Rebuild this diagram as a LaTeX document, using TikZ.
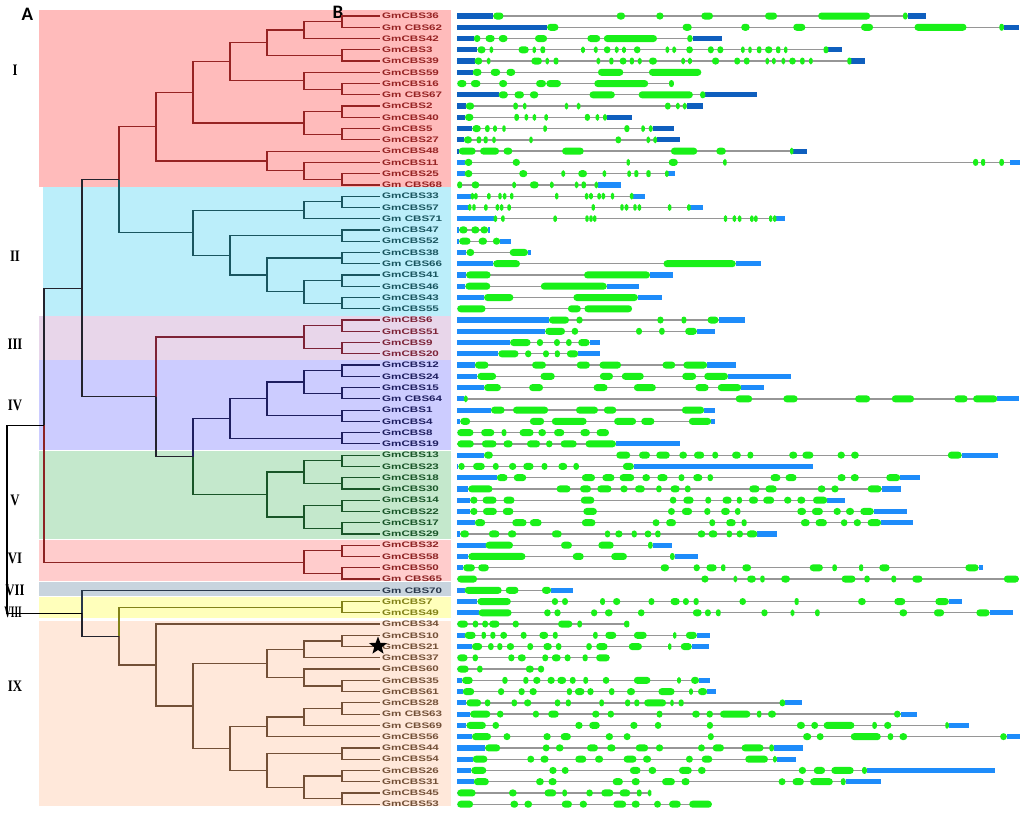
\documentclass[tikz,border=0pt]{standalone}
\usepackage{fontspec}
\setmainfont{Liberation Serif}
\newfontfamily\lblfont[FakeStretch=1.45]{Liberation Sans}
\newfontfamily\romfont[FakeStretch=0.8]{Liberation Serif}
\newfontfamily\abfont{Carlito}
\usetikzlibrary{shapes.geometric}
\definecolor{bgI}{RGB}{255,187,187}
\definecolor{bgII}{RGB}{187,238,250}
\definecolor{bgIII}{RGB}{232,214,234}
\definecolor{bgIV}{RGB}{204,204,255}
\definecolor{bgV}{RGB}{196,232,204}
\definecolor{bgVI}{RGB}{255,204,204}
\definecolor{bgVII}{RGB}{200,212,222}
\definecolor{bgVIII}{RGB}{255,255,187}
\definecolor{bgIX}{RGB}{255,232,218}
\definecolor{cI}{RGB}{150,35,35}
\definecolor{cII}{RGB}{25,85,95}
\definecolor{cIII}{RGB}{125,35,55}
\definecolor{cIV}{RGB}{30,30,95}
\definecolor{cV}{RGB}{25,85,40}
\definecolor{cVI}{RGB}{140,35,35}
\definecolor{cVII}{RGB}{40,55,75}
\definecolor{cVIII}{RGB}{130,130,25}
\definecolor{cIX}{RGB}{115,80,55}
\definecolor{cBB}{RGB}{35,35,45}
\definecolor{utrA}{RGB}{15,95,190}
\definecolor{utrB}{RGB}{30,140,250}
\definecolor{exonG}{RGB}{25,240,25}
\definecolor{intronG}{RGB}{150,150,150}
\tikzset{
  tree/.style={line width=1.2pt},
  leaf/.style={font=\lblfont\bfseries\fontsize{8}{8}\selectfont, inner xsep=2pt, inner ysep=0pt, anchor=west},
  rom/.style={font=\romfont\bfseries\fontsize{16}{16}\selectfont, inner sep=0pt},
  abl/.style={font=\abfont\bfseries\fontsize{19}{19}\selectfont, inner sep=0pt},
  intron/.style={draw=intronG, line width=1.3pt},
  exon/.style={fill=exonG}
}
\newcommand\nd[3]{\coordinate (#1) at (#2,{16+11.26*(#3)});}
\newcommand\lf[3]{\node[leaf,text=#3] (L#1) at (380,{16+11.26*#1}) {#2};}
\newcommand\br[3]{\foreach \ch in {#3}{\draw[tree,#1] (#2) |- (\ch);}}
\newcommand\gene[5]{%
  \pgfmathsetmacro\gy{16+11.26*#1}%
  \ifnum#1<13 \def\utrcol{utrA}\else\def\utrcol{utrB}\fi
  \draw[intron] ({450+0.3663*#2},\gy) -- ({450+0.3663*#3},\gy);
  \foreach \ua/\ub in {#4}{\fill[fill=\utrcol] ({450+0.3663*\ua},{\gy-2.6}) rectangle ({450+0.3663*\ub},{\gy+2.6});}
  \foreach \ea/\eb in {#5}{%
    \pgfmathsetmacro\xc{450+0.3663*(\ea+\eb)/2}%
    \pgfmathsetmacro\hw{max(1.7,0.3663*(\eb-\ea)/2)}%
    \pgfmathsetmacro\rr{min(3.4,\hw)}%
    \fill[exon,rounded corners=\rr pt] ({\xc-\hw},{\gy-3.5}) rectangle ({\xc+\hw},{\gy+3.5});}%
}
\begin{document}
\begin{tikzpicture}[x=1pt,y=-1pt]
\useasboundingbox (0,0) rectangle (1024,815);
\fill[white] (0,0) rectangle (1024,815);
% clade backgrounds
\fill[bgI] (39,10) rectangle (451,187);
\fill[bgII] (43,187) rectangle (451,316);
\fill[bgIII] (39,316) rectangle (451,360);
\fill[bgIV] (39,360) rectangle (451,450);
\fill[bgV] (39,451) rectangle (451,539);
\fill[bgVI] (39,540) rectangle (451,581);
\fill[bgVII] (39,582) rectangle (451,596);
\fill[bgVIII] (39,597) rectangle (451,618);
\fill[bgIX] (39,621) rectangle (451,806);
% panel letters and clade numerals
\node[abl] (pA) at (27.5,14) {A};
\node[abl] (pB) at (338,12.5) {B};
\node[rom] (nI) at (15,70) {I};
\node[rom] (nII) at (15,256) {II};
\node[rom] (nIII) at (15,344) {III};
\node[rom] (nIV) at (15,405.5) {IV};
\node[rom] (nV) at (15,500) {V};
\node[rom] (nVI) at (15,558.5) {VI};
\node[rom] (nVII) at (15,590) {VII};
\node[rom,xscale=0.72] (nVIII) at (13,612.7) {VIII};
\node[rom] (nIX) at (15,686) {IX};
% leaves
\lf{0}{GmCBS36}{cI}\lf{1}{Gm CBS62}{cI}\lf{2}{GmCBS42}{cI}\lf{3}{GmCBS3}{cI}
\lf{4}{GmCBS39}{cI}\lf{5}{GmCBS59}{cI}\lf{6}{GmCBS16}{cI}\lf{7}{Gm CBS67}{cI}
\lf{8}{GmCBS2}{cI}\lf{9}{GmCBS40}{cI}\lf{10}{GmCBS5}{cI}\lf{11}{GmCBS27}{cI}
\lf{12}{GmCBS48}{cI}\lf{13}{GmCBS11}{cI}\lf{14}{GmCBS25}{cI}\lf{15}{Gm CBS68}{cI}
\lf{16}{GmCBS33}{cII}\lf{17}{GmCBS57}{cII}\lf{18}{Gm CBS71}{cII}\lf{19}{GmCBS47}{cII}
\lf{20}{GmCBS52}{cII}\lf{21}{GmCBS38}{cII}\lf{22}{Gm CBS66}{cII}\lf{23}{GmCBS41}{cII}
\lf{24}{GmCBS46}{cII}\lf{25}{GmCBS43}{cII}\lf{26}{GmCBS55}{cII}
\lf{27}{GmCBS6}{cIII}\lf{28}{GmCBS51}{cIII}\lf{29}{GmCBS9}{cIII}\lf{30}{GmCBS20}{cIII}
\lf{31}{GmCBS12}{cIV}\lf{32}{GmCBS24}{cIV}\lf{33}{GmCBS15}{cIV}\lf{34}{Gm CBS64}{cIV}
\lf{35}{GmCBS1}{cIV}\lf{36}{GmCBS4}{cIV}\lf{37}{GmCBS8}{cIV}\lf{38}{GmCBS19}{cIV}
\lf{39}{GmCBS13}{cV}\lf{40}{GmCBS23}{cV}\lf{41}{GmCBS18}{cV}\lf{42}{GmCBS30}{cV}
\lf{43}{GmCBS14}{cV}\lf{44}{GmCBS22}{cV}\lf{45}{GmCBS17}{cV}\lf{46}{GmCBS29}{cV}
\lf{47}{GmCBS32}{cVI}\lf{48}{GmCBS58}{cVI}\lf{49}{GmCBS50}{cVI}\lf{50}{Gm CBS65}{cVI}
\lf{51}{Gm CBS70}{cVII}\lf{52}{GmCBS7}{cVIII}\lf{53}{GmCBS49}{cVIII}
\lf{54}{GmCBS34}{cIX}\lf{55}{GmCBS10}{cIX}\lf{56}{GmCBS21}{cIX}\lf{57}{GmCBS37}{cIX}
\lf{58}{GmCBS60}{cIX}\lf{59}{GmCBS35}{cIX}\lf{60}{GmCBS61}{cIX}\lf{61}{GmCBS28}{cIX}
\lf{62}{Gm CBS63}{cIX}\lf{63}{Gm CBS69}{cIX}\lf{64}{GmCBS56}{cIX}\lf{65}{GmCBS44}{cIX}
\lf{66}{GmCBS54}{cIX}\lf{67}{GmCBS26}{cIX}\lf{68}{GmCBS31}{cIX}\lf{69}{GmCBS45}{cIX}
\lf{70}{GmCBS53}{cIX}
% internal nodes
\nd{a1}{342}{0.5}\nd{a2}{304}{1.25}\nd{a3}{342}{3.5}\nd{a4}{267}{2.375}
\nd{a5}{342}{6.5}\nd{a6}{304}{5.75}\nd{a7}{230}{4.0625}\nd{a8}{342}{8.5}
\nd{a9}{342}{10.5}\nd{a10}{304}{9.5}\nd{a11}{193}{6.78125}\nd{a12}{342}{14.5}
\nd{a13}{304}{13.75}\nd{a14}{267}{12.875}\nd{a15}{156}{9.828}
\nd{b1}{342}{16.5}\nd{b2}{304}{17.25}\nd{b3}{342}{19.5}\nd{b4}{342}{21.5}
\nd{b5}{342}{23.5}\nd{b6}{342}{25.5}\nd{b7}{304}{24.5}\nd{b8}{267}{23}
\nd{b9}{230}{21.25}\nd{b10}{193}{19.25}\nd{c1}{119}{14.539}
\nd{d1}{342}{27.5}\nd{d2}{342}{29.5}\nd{d3}{304}{28.5}
\nd{e1}{342}{31.5}\nd{e2}{342}{33.5}\nd{e3}{304}{32.5}\nd{e4}{342}{35.5}
\nd{e5}{267}{34}\nd{e6}{342}{37.5}\nd{e7}{230}{35.75}
\nd{f1}{342}{39.5}\nd{f2}{342}{41.5}\nd{f3}{304}{40.5}\nd{f4}{342}{43.5}
\nd{f5}{342}{45.5}\nd{f6}{304}{44.5}\nd{f7}{267}{42.5}
\nd{g1}{193}{39.125}\nd{g2}{156}{33.8125}\nd{g3}{82}{24.176}
\nd{h1}{342}{47.5}\nd{h2}{342}{49.5}\nd{h3}{304}{48.5}\nd{g4}{44}{36.338}
\nd{i1}{342}{52.5}
\nd{j1}{342}{55.5}\nd{j2}{304}{56.25}\nd{j3}{342}{59.5}\nd{j4}{304}{58.75}
\nd{j5}{267}{57.5}\nd{j6}{342}{61.5}\nd{j7}{304}{62.25}\nd{j8}{267}{63.125}
\nd{j9}{342}{65.5}\nd{j10}{342}{67.5}\nd{j11}{342}{69.5}\nd{j12}{304}{68.5}
\nd{j13}{267}{67}\nd{j14}{230}{65.0625}\nd{j15}{193}{61.28}\nd{j16}{156}{57.64}
\nd{j17}{119}{55.07}\nd{j18}{82}{53.035}\nd{root}{7}{44.69}
% branches
\br{cI}{a1}{L0.west,L1.west}\br{cI}{a2}{a1,L2.west}\br{cI}{a3}{L3.west,L4.west}
\br{cI}{a4}{a2,a3}\br{cI}{a5}{L6.west,L7.west}\br{cI}{a6}{L5.west,a5}
\br{cI}{a7}{a4,a6}\br{cI}{a8}{L8.west,L9.west}\br{cI}{a9}{L10.west,L11.west}
\br{cI}{a10}{a8,a9}\br{cI}{a11}{a7,a10}\br{cI}{a12}{L14.west,L15.west}
\br{cI}{a13}{L13.west,a12}\br{cI}{a14}{L12.west,a13}\br{cI}{a15}{a11,a14}
\br{cII}{b1}{L16.west,L17.west}\br{cII}{b2}{b1,L18.west}\br{cII}{b3}{L19.west,L20.west}
\br{cII}{b4}{L21.west,L22.west}\br{cII}{b5}{L23.west,L24.west}\br{cII}{b6}{L25.west,L26.west}
\br{cII}{b7}{b5,b6}\br{cII}{b8}{b4,b7}\br{cII}{b9}{b3,b8}\br{cII}{b10}{b2,b9}
\br{cI}{c1}{a15}\br{cII}{c1}{b10}
\br{cIII}{d1}{L27.west,L28.west}\br{cIII}{d2}{L29.west,L30.west}\br{cIII}{d3}{d1,d2}
\br{cIV}{e1}{L31.west,L32.west}\br{cIV}{e2}{L33.west,L34.west}\br{cIV}{e3}{e1,e2}
\br{cIV}{e4}{L35.west,L36.west}\br{cIV}{e5}{e3,e4}\br{cIV}{e6}{L37.west,L38.west}
\br{cIV}{e7}{e5,e6}
\br{cV}{f1}{L39.west,L40.west}\br{cV}{f2}{L41.west,L42.west}\br{cV}{f3}{f1,f2}
\br{cV}{f4}{L43.west,L44.west}\br{cV}{f5}{L45.west,L46.west}\br{cV}{f6}{f4,f5}
\br{cV}{f7}{f3,f6}
\br{cIV}{g1}{e7}\br{cV}{g1}{f7}\br{cIII}{g2}{d3}\br{cBB}{g2}{g1}\br{cBB}{g3}{c1,g2}
\br{cVI}{h1}{L47.west,L48.west}\br{cVI}{h2}{L49.west,L50.west}\br{cVI}{h3}{h1,h2}
\br{cBB}{g4}{g3}\br{cVI}{g4}{h3}
\br{cVIII}{i1}{L52.west,L53.west}
\br{cIX}{j1}{L55.west,L56.west}\br{cIX}{j2}{j1,L57.west}\br{cIX}{j3}{L59.west,L60.west}
\br{cIX}{j4}{L58.west,j3}\br{cIX}{j5}{j2,j4}\br{cIX}{j6}{L61.west,L62.west}
\br{cIX}{j7}{j6,L63.west}\br{cIX}{j8}{j7,L64.west}\br{cIX}{j9}{L65.west,L66.west}
\br{cIX}{j10}{L67.west,L68.west}\br{cIX}{j11}{L69.west,L70.west}\br{cIX}{j12}{j10,j11}
\br{cIX}{j13}{j9,j12}\br{cIX}{j14}{j8,j13}\br{cIX}{j15}{j5,j14}\br{cIX}{j16}{L54.west,j15}
\br{cVIII}{j17}{i1}\br{cIX}{j17}{j16}\br{cVII}{j18}{L51.west}\br{cBB}{j18}{j17}
\br{black}{root}{g4,j18}
% star
\node[star,star points=5,star point ratio=2.4,fill=black,inner sep=0pt,minimum size=19pt] (star) at (378,646) {};
% gene structures
\gene{0}{18}{1300}{18/118,1249/1300}{118/146,455/478,563/583,686/718,860/893,1005/1147,1237/1249}
\gene{1}{18}{1552}{18/265,1512/1552}{265/296,635/660,795/818,937/970,1122/1155,1268/1410,1500/1512}
\gene{2}{18}{742}{18/65,662/742}{65/83,97/122,133/157,232/265,375/410,420/565,648/662}
\gene{3}{18}{1070}{18/75,1033/1070}{75/97,109/117,187/215,228/232,247/260,358/368,393/403,420/438,450/460,470/480,502/520,590/597,607/617,645/663,704/720,730/746,795/804,815/823,838/850,860/880,890/902,913/920,1020/1033}
\gene{4}{18}{1134}{18/67,1096/1134}{67/88,101/110,222/251,262/269,283/296,401/409,435/446,463/482,491/502,513/523,543/565,633/640,650/660,715/735,776/792,802/818,862/870,880/888,905/915,926/944,956/968,982/988,1085/1096}
\gene{5}{18}{686}{18/62}{62/86,111/137,154/178,404/473,543/686}
\gene{6}{20}{611}{20/20}{20/45,57/83,134/156,235/262,263/303,394/541,598/611}
\gene{7}{18}{838}{18/133,697/838}{133/158,176/202,218/241,381/450,515/663,683/697}
\gene{8}{18}{692}{18/43,646/692}{43/66,173/185,200/208,315/321,347/355,587/602,617/627,636/646}
\gene{9}{18}{497}{18/41,428/497}{41/64,176/188,204/213,227/234,259/266,368/382,398/407,418/428}
\gene{10}{18}{611}{18/61,553/611}{61/84,96/108,118/128,145/150,257/262,476/490,523/531,543/553}
\gene{11}{18}{628}{18/38,565/628}{38/60,73/85,92/103,117/123,218/224,452/467,538/545,555/565}
\gene{12}{18}{975}{18/24,936/975}{24/70,82/134,146/170,306/365,603/675,727/753,930/936}
\gene{13}{20}{1555}{20/40,1530/1555}{40/61,171/191,483/490,597/622,748/753,1428/1442,1450/1461,1500/1512}
\gene{14}{20}{614}{20/40,594/614}{40/61,189/211,304/314,350/374,419/424,484/494,503/514,536/548,590/594}
\gene{15}{20}{467}{404/467}{20/33,59/80,170/180,218/242,275/281,341/350,359/371,395/404}
\gene{16}{20}{533}{20/57,499/533}{57/65,67/74,101/111,133/140,146/152,166/171,288/295,369/377,380/390,403/411,415/422,440/447,493/499}
\gene{17}{20}{690}{20/51,655/690}{51/57,62/69,93/103,126/133,138/144,158/165,387/395,465/474,477/487,502/508,514/520,596/603,649/655}
\gene{18}{20}{914}{20/120,890/914}{120/128,141/148,282/292,371/377,382/388,392/398,748/756,772/781,786/795,821/827,832/838,872/879,883/890}
\gene{19}{20}{108}{20/25,104/108}{25/48,58/80,83/104}
\gene{20}{20}{166}{20/25,137/166}{25/56,78/101,117/137}
\gene{21}{20}{222}{20/45,213/222}{45/66,163/213}
\gene{22}{20}{849}{20/118,780/849}{118/191,583/780}
\gene{23}{20}{609}{20/44,546/609}{44/111,366/546}
\gene{24}{20}{515}{20/42,428/515}{42/110,248/428}
\gene{25}{20}{578}{20/93,513/578}{93/173,337/513}
\gene{26}{20}{497}{20/20}{20/97,322/357,367/497}
\gene{27}{20}{804}{20/270,733/804}{270/325,345/362,566/583,632/645,703/733}
\gene{28}{20}{723}{20/260,674/723}{260/314,332/350,508/524,571/586,642/674}
\gene{29}{20}{409}{20/164,381/409}{164/220,237/254,284/300,317/332,350/381}
\gene{30}{20}{410}{20/132,350/410}{132/187,205/222,254/270,286/300,319/350}
\gene{31}{20}{780}{20/68,702/780}{68/105,224/262,346/382,408/467,580/615,637/702}
\gene{32}{20}{932}{20/75,759/932}{75/126,247/286,409/445,469/529,634/672,694/759}
\gene{33}{20}{857}{20/93,795/857}{93/139,216/254,392/430,502/562,670/706,731/795}
\gene{34}{20}{1554}{20/38,1494/1554}{38/48,780/825,910/949,1106/1147,1206/1267,1377/1413,1428/1494}
\gene{35}{20}{723}{20/112,694/723}{112/149,172/268,344/404,420/454,633/694}
\gene{36}{20}{723}{20/28,713/723}{28/55,218/257,278/373,448/508,522/558,652/713}
\gene{37}{20}{434}{20/20}{20/64,85/121,141/154,190/228,241/262,284/312,356/382,400/434}
\gene{38}{20}{627}{453/627}{20/65,87/127,146/171,210/246,262/280,302/346,370/453}
\gene{39}{20}{1496}{20/93,1397/1496}{93/117,454/492,516/546,563/600,626/647,666/694,716/732,770/794,812/828,926/948,962/992,1058/1078,1095/1116,1359/1397}
\gene{40}{20}{991}{20/23,502/991}{23/40,63/95,117/133,161/181,200/228,250/266,296/320,337/352,472/502}
\gene{41}{20}{1283}{20/128,1229/1283}{128/157,174/208,360/396,416/449,463/503,525/546,566/594,624/640,664/689,703/718,875/902,916/946,1058/1080,1094/1116,1191/1229}
\gene{42}{20}{1231}{20/50,1178/1231}{50/116,291/329,355/385,402/441,465/485,505/532,563/578,602/627,641/657,817/845,861/892,1004/1025,1041/1061,1140/1178}
\gene{43}{20}{1079}{20/55,1030/1079}{55/75,89/127,146/176,357/394,600/618,637/665,697/713,744/769,783/797,816/841,855/885,912/932,948/970,991/1030}
\gene{44}{20}{1248}{20/55,1157/1248}{55/75,90/128,144/173,364/401,595/614,633/661,694/711,740/764,778/793,948/972,988/1018,1047/1067,1081/1103,1120/1157}
\gene{45}{20}{1265}{20/68,1177/1265}{68/96,170/209,218/250,360/397,553/572,590/617,708/724,754/780,796/810,958/982,998/1029,1067/1085,1102/1122,1140/1177}
\gene{46}{20}{894}{20/28,839/894}{28/52,106/135,158/181,278/305,423/437,451/471,496/510,531/550,560/575,676/697,706/730,755/770,782/800,810/839}
\gene{47}{20}{606}{20/97,553/606}{97/172,303/333,405/447,541/553}
\gene{48}{20}{677}{20/50,613/677}{50/206,335/365,440/483,601/613}
\gene{49}{20}{1455}{20/36,1443/1455}{36/68,77/106,575/598,665/682,700/728,740/752,798/822,982/1018,1044/1056,1117/1128,1172/1200,1407/1443}
\gene{50}{20}{1553}{20/20}{20/74,686/706,774/784,811/835,847/859,904/928,1069/1107,1131/1146,1205/1218,1262/1290,1512/1553}
\gene{51}{20}{335}{20/40,276/335}{40/141,152/187,251/276}
\gene{52}{20}{1398}{20/75,1362/1398}{75/166,278/295,306/322,410/423,445/465,542/558,602/627,636/652,665/679,790/808,941/952,1114/1135,1213/1243,1325/1362}
\gene{53}{20}{1536}{20/78,1473/1536}{78/168,257/275,285/302,385/402,423/444,513/531,663/687,696/712,726/739,850/867,930/940,997/1009,1227/1248,1321/1349,1437/1473}
\gene{54}{20}{490}{20/20}{20/49,62/77,88/104,107/135,171/188,295/334,348/360,475/490}
\gene{55}{20}{710}{20/40,674/710}{40/70,86/98,110/124,137/156,193/209,244/268,281/294,391/403,424/454,502/537,609/618,644/674}
\gene{56}{20}{708}{20/60,660/708}{60/88,104/119,129/143,155/175,211/227,255/278,289/304,372/387,399/430,488/524,596/604,630/660}
\gene{57}{20}{436}{20/20}{20/48,62/76,159/176,185/207,252/268,278/302,313/329,362/376,399/436}
\gene{58}{20}{257}{20/20}{20/51,74/89,207/229,240/257}
\gene{59}{20}{710}{20/33,680/710}{33/62,143/157,200/214,227/247,266/286,293/317,327/343,364/377,417/435,502/547,620/630,658/680}
\gene{60}{20}{725}{20/35,702/725}{35/66,131/148,187/204,217/237,319/333,341/367,375/392,434/449,483/505,569/613,653/663,677/702}
\gene{61}{20}{962}{20/45,915/962}{45/85,95/110,168/183,202/222,286/301,316/330,408/420,478/492,503/517,530/590,602/610,624/638,900/915}
\gene{62}{20}{1275}{20/55,1230/1275}{55/110,128/146,226/243,268/297,388/408,430/448,564/580,661/682,700/718,737/820,838/850,868/890,1212/1230}
\gene{63}{20}{1416}{20/45,1362/1416}{45/98,116/134,342/362,380/409,492/512,559/577,701/718,947/969,986/1005,1020/1104,1153/1165,1185/1205,1352/1362}
\gene{64}{20}{1555}{20/60,1520/1555}{60/112,146/165,255/275,302/330,425/445,474/493,704/720,964/986,1001/1020,1094/1176,1195/1210,1227/1248,1502/1520}
\gene{65}{20}{965}{20/96,884/965}{96/137,253/272,289/310,374/404,429/452,507/541,562/582,677/696,717/748,796/856,872/884}
\gene{66}{20}{944}{20/62,892/944}{62/102,211/230,247/269,342/372,396/418,474/509,527/549,644/663,687/716,806/868,882/892}
\gene{67}{20}{1488}{20/58,1138/1488}{58/99,271/291,305/324,491/520,542/563,625/660,677/698,952/972,993/1024,1041/1102,1125/1138}
\gene{68}{20}{1177}{20/65,1080/1177}{65/106,235/256,269/291,444/472,496/518,579/614,632/654,897/916,935/966,983/1045,1067/1080}
\gene{69}{20}{550}{20/20}{20/70,161/182,258/290,307/319,372/390,413/446,463/492,510/523,540/550}
\gene{70}{20}{715}{20/20}{20/63,165/186,203/224,305/333,354/374,446/481,496/518,557/576,598/630,653/715}
\end{tikzpicture}
\end{document}
